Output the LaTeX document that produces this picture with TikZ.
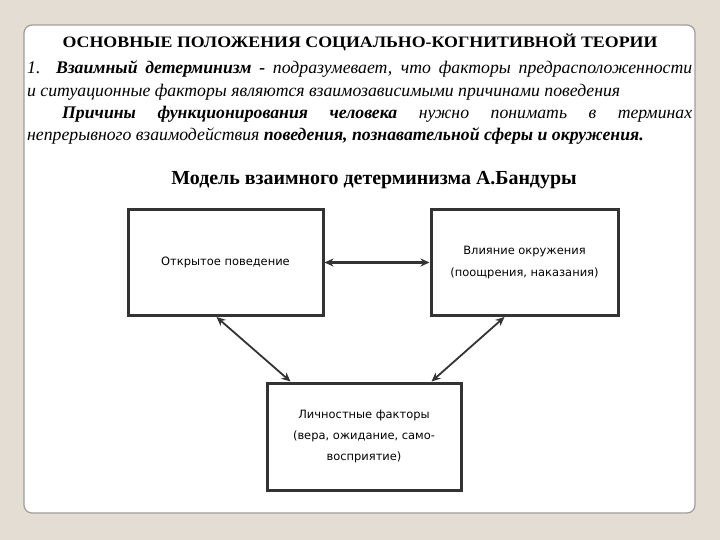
\documentclass[tikz,border=0pt]{standalone}
\usepackage{fontspec}
\setmainfont{Liberation Serif}
\newfontfamily\boxfont{DejaVu Sans}
\usetikzlibrary{arrows.meta,positioning,calc}
\definecolor{fon}{HTML}{E3DDD3}
\definecolor{ramka}{HTML}{A09E98}
\definecolor{linija}{HTML}{333333}
\tikzset{
  faktor/.style={draw=linija, line width=3bp, fill=white, align=center,
    font=\boxfont\fontsize{11.5}{21.5}\selectfont, text=black, inner sep=0pt},
  strelka/.style={{Stealth[length=9bp,width=8bp]}-{Stealth[length=9bp,width=8bp]},
    draw=linija, line width=1.8bp},
  stroka/.style={anchor=base west, inner sep=0pt, font=\fontsize{17.8}{22}\selectfont}
}
\begin{document}
\begin{tikzpicture}[x=1bp,y=-1bp]
% Fon i panel
\fill[fon] (0,0) rectangle (720,540);
\draw[ramka, fill=white, rounded corners=8bp, line width=1.2bp] (24,25) rectangle (695,513);
\useasboundingbox (0,0) rectangle (720,540);

% Zagolovok i tekst
\node[font=\fontsize{16}{18}\selectfont\bfseries] (zagolovok) at (360,42) {\scalebox{1.12}[1]{ОСНОВНЫЕ ПОЛОЖЕНИЯ СОЦИАЛЬНО-КОГНИТИВНОЙ ТЕОРИИ}};
\node[stroka] (str1) at (27,74) {\makebox[665bp][s]{\itshape 1.\ \ \textbf{Взаимный детерминизм -} подразумевает, что факторы предрасположенности}};
\node[stroka] (str2) at (27,97) {\itshape и ситуационные факторы являются взаимозависимыми причинами поведения};
\node[stroka] (str3) at (62,119) {\makebox[630bp][s]{\itshape\textbf{Причины функционирования человека} нужно понимать в терминах}};
\node[stroka] (str4) at (27,141) {\itshape непрерывного взаимодействия \textbf{поведения, познавательной сферы и окружения.}};
\node[font=\fontsize{20}{22}\selectfont\bfseries] (model) at (374,180) {Модель взаимного детерминизма А.Бандуры};

% Bloki
\node[faktor, minimum width=195bp, minimum height=106bp] (povedenie) at (225.5,262.5) {Открытое поведение};
\node[faktor, minimum width=187bp, minimum height=106bp] (okruzhenie) at (524.5,262.5) {Влияние окружения\\(поощрения, наказания)};
\node[faktor, minimum width=194bp, minimum height=107bp] (lichnost) at (364,436.5) {Личностные факторы\\(вера, ожидание, само-\\восприятие)};

% Strelki
\draw[strelka, line width=2.6bp] (povedenie) -- (okruzhenie);
\draw[strelka] ([xshift=90bp]povedenie.south west) -- ([xshift=25bp]lichnost.north west);
\draw[strelka] ([xshift=-115bp]okruzhenie.south east) -- ([xshift=-31bp]lichnost.north east);
\end{tikzpicture}
\end{document}
